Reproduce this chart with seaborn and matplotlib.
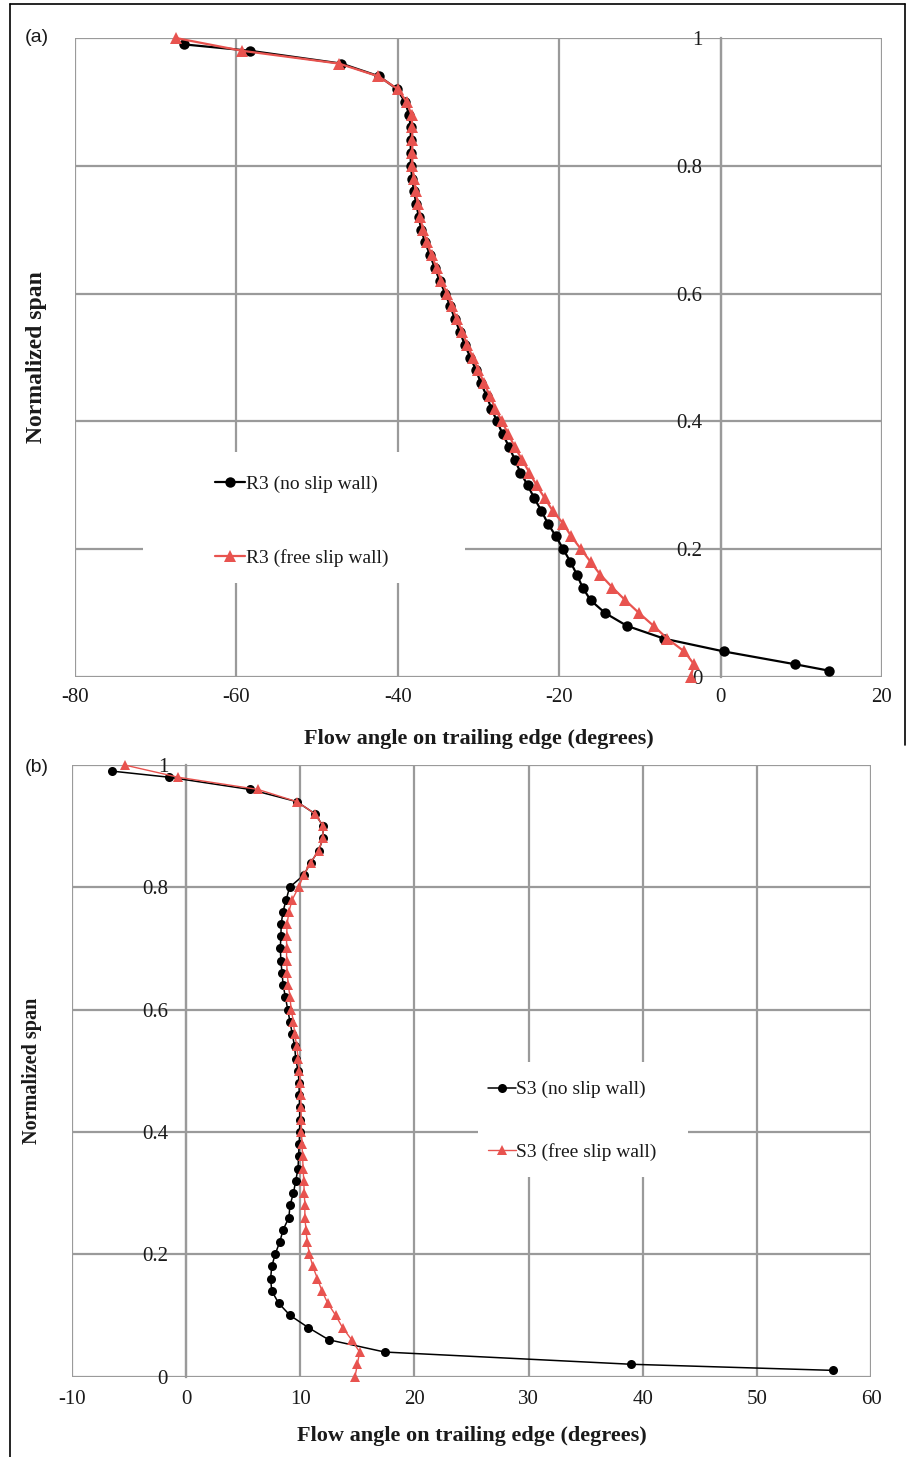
import matplotlib
matplotlib.use("Agg")
import matplotlib.pyplot as plt
import seaborn as sns
import pandas as pd
from matplotlib.patches import Rectangle
from matplotlib.lines import Line2D

# ---------------- data ----------------
# Panel (a): rotor R3
a_noslip_span = [0.01, 0.02, 0.04, 0.06, 0.08, 0.10, 0.12, 0.14, 0.16, 0.18, 0.20, 0.22, 0.24,
                 0.26, 0.28, 0.30, 0.32, 0.34, 0.36, 0.38, 0.40, 0.42, 0.44, 0.46, 0.48, 0.50,
                 0.52, 0.54, 0.56, 0.58, 0.60, 0.62, 0.64, 0.66, 0.68, 0.70, 0.72, 0.74, 0.76,
                 0.78, 0.80, 0.82, 0.84, 0.86, 0.88, 0.90, 0.92, 0.94, 0.96, 0.98, 0.99]
a_noslip_angle = [13.4, 9.2, 0.4, -7.0, -11.6, -14.3, -16.1, -17.1, -17.8, -18.6, -19.5, -20.4,
                  -21.4, -22.2, -23.1, -23.9, -24.8, -25.5, -26.2, -27.0, -27.7, -28.4, -29.0,
                  -29.7, -30.3, -31.0, -31.7, -32.3, -32.9, -33.5, -34.1, -34.8, -35.4, -36.0,
                  -36.6, -37.1, -37.4, -37.7, -38.0, -38.2, -38.4, -38.4, -38.4, -38.4, -38.6,
                  -39.1, -40.1, -42.3, -47.0, -58.3, -66.5]
a_free_span = [0.00, 0.02, 0.04, 0.06, 0.08, 0.10, 0.12, 0.14, 0.16, 0.18, 0.20, 0.22, 0.24,
               0.26, 0.28, 0.30, 0.32, 0.34, 0.36, 0.38, 0.40, 0.42, 0.44, 0.46, 0.48, 0.50,
               0.52, 0.54, 0.56, 0.58, 0.60, 0.62, 0.64, 0.66, 0.68, 0.70, 0.72, 0.74, 0.76,
               0.78, 0.80, 0.82, 0.84, 0.86, 0.88, 0.90, 0.92, 0.94, 0.96, 0.98, 1.00]
a_free_angle = [-3.7, -3.3, -4.5, -6.6, -8.3, -10.1, -11.8, -13.4, -14.9, -16.1, -17.3, -18.5,
                -19.5, -20.8, -21.8, -22.8, -23.7, -24.6, -25.5, -26.3, -27.1, -27.9, -28.6,
                -29.3, -30.0, -30.7, -31.4, -32.0, -32.7, -33.3, -33.9, -34.6, -35.2, -35.8,
                -36.4, -36.9, -37.2, -37.5, -37.8, -38.0, -38.2, -38.2, -38.2, -38.2, -38.3,
                -38.9, -40.0, -42.4, -47.3, -59.3, -67.5]

# Panel (b): stator S3
b_noslip_span = [0.01, 0.02, 0.04, 0.06, 0.08, 0.10, 0.12, 0.14, 0.16, 0.18, 0.20, 0.22, 0.24,
                 0.26, 0.28, 0.30, 0.32, 0.34, 0.36, 0.38, 0.40, 0.42, 0.44, 0.46, 0.48, 0.50,
                 0.52, 0.54, 0.56, 0.58, 0.60, 0.62, 0.64, 0.66, 0.68, 0.70, 0.72, 0.74, 0.76,
                 0.78, 0.80, 0.82, 0.84, 0.86, 0.88, 0.90, 0.92, 0.94, 0.96, 0.98, 0.99]
b_noslip_angle = [56.7, 39.0, 17.4, 12.5, 10.7, 9.1, 8.1, 7.5, 7.4, 7.5, 7.8, 8.2, 8.5, 9.0,
                  9.1, 9.4, 9.6, 9.8, 9.85, 9.9, 9.95, 9.95, 9.95, 9.9, 9.9, 9.8, 9.6, 9.5,
                  9.3, 9.1, 8.9, 8.7, 8.5, 8.4, 8.3, 8.25, 8.3, 8.33, 8.48, 8.77, 9.06, 10.3,
                  10.9, 11.6, 12.0, 12.0, 11.3, 9.7, 5.6, -1.5, -6.5]
b_free_span = [0.00, 0.02, 0.04, 0.06, 0.08, 0.10, 0.12, 0.14, 0.16, 0.18, 0.20, 0.22, 0.24,
               0.26, 0.28, 0.30, 0.32, 0.34, 0.36, 0.38, 0.40, 0.42, 0.44, 0.46, 0.48, 0.50,
               0.52, 0.54, 0.56, 0.58, 0.60, 0.62, 0.64, 0.66, 0.68, 0.70, 0.72, 0.74, 0.76,
               0.78, 0.80, 0.82, 0.84, 0.86, 0.88, 0.90, 0.92, 0.94, 0.96, 0.98, 1.00]
b_free_angle = [14.8, 15.0, 15.2, 14.5, 13.7, 13.1, 12.4, 11.9, 11.5, 11.1, 10.8, 10.6, 10.5,
                10.4, 10.4, 10.35, 10.3, 10.25, 10.2, 10.15, 10.1, 10.1, 10.05, 10.05, 10.0,
                9.9, 9.8, 9.7, 9.5, 9.4, 9.2, 9.1, 8.95, 8.85, 8.8, 8.8, 8.8, 8.85, 9.0, 9.3,
                9.85, 10.3, 10.9, 11.6, 12.0, 12.0, 11.3, 9.7, 6.3, -0.7, -5.4]

a_labels = ["R3 (no slip wall)", "R3 (free slip wall)"]
b_labels = ["S3 (no slip wall)", "S3 (free slip wall)"]
a_xticks = [-80, -60, -40, -20, 0, 20]
a_xticklabels = ["-80", "-60", "-40", "-20", "0", "20"]
b_xticks = [-10, 0, 10, 20, 30, 40, 50, 60]
b_xticklabels = ["-10", "0", "10", "20", "30", "40", "50", "60"]
y_ticks = [0, 0.2, 0.4, 0.6, 0.8, 1.0]
y_ticklabels = ["0", "0.2", "0.4", "0.6", "0.8", "1"]
x_title = "Flow angle on trailing edge (degrees)"
y_title = "Normalized span"

# ---------------- style ----------------
sns.set_theme(style="white")
plt.rcParams["font.family"] = ["Liberation Serif", "DejaVu Serif"]
plt.rcParams["axes.unicode_minus"] = False

GRID = "#9a9a9a"
RED = "#E8534F"
TXT = "#1a1a1a"
W, H = 907, 1457

fig = plt.figure(figsize=(W / 100, H / 100), dpi=100)


def px_axes(l, t, r, b):
    return fig.add_axes([l / W, 1 - b / H, (r - l) / W, (b - t) / H])


ax_a = px_axes(75, 38, 882, 677)
ax_b = px_axes(72, 765, 871, 1376.5)


def style(ax, xlim, xticks, xticklabels, xpad, ylab_x, ylab_size):
    ax.set_xlim(*xlim)
    ax.set_ylim(0, 1)
    ax.set_xticks(xticks)
    ax.set_xticklabels(xticklabels)
    ax.set_yticks(y_ticks)
    ax.set_yticklabels(y_ticklabels)
    ax.set_axisbelow(True)
    ax.grid(True, color=GRID, lw=1.6)
    for s in ["top", "right", "bottom"]:
        ax.spines[s].set_visible(False)
    ax.spines["left"].set_position(("data", 0))
    ax.spines["left"].set_color(GRID)
    ax.spines["left"].set_linewidth(1.6)
    ax.tick_params(axis="both", length=0, labelsize=15, colors=TXT)
    ax.tick_params(axis="y", pad=13)
    ax.tick_params(axis="x", pad=xpad)
    ax.set_xlabel(x_title, fontsize=16, fontweight="bold", color=TXT)
    ax.set_ylabel(y_title, fontsize=ylab_size, fontweight="bold", color=TXT)
    ax.xaxis.set_label_coords(0.5, -0.081)
    ax.yaxis.set_label_coords(ylab_x, 0.5)
    ax.set_facecolor("white")


# ---- panel (a)
df_a1 = pd.DataFrame({"angle": a_noslip_angle, "span": a_noslip_span})
df_a2 = pd.DataFrame({"angle": a_free_angle, "span": a_free_span})
sns.lineplot(data=df_a1, x="angle", y="span", sort=False, estimator=None, ax=ax_a,
             color="black", lw=1.6, marker="o", markersize=7.5, markeredgewidth=0,
             clip_on=False, zorder=3, label=a_labels[0])
sns.lineplot(data=df_a2, x="angle", y="span", sort=False, estimator=None, ax=ax_a,
             color=RED, lw=1.6, marker="^", markersize=8, markeredgewidth=0,
             clip_on=False, zorder=4, label=a_labels[1])
style(ax_a, (-80, 20), a_xticks, a_xticklabels, 8, -0.035, 17)

# ---- panel (b)
df_b1 = pd.DataFrame({"angle": b_noslip_angle, "span": b_noslip_span})
df_b2 = pd.DataFrame({"angle": b_free_angle, "span": b_free_span})
sns.lineplot(data=df_b1, x="angle", y="span", sort=False, estimator=None, ax=ax_b,
             color="black", lw=1.1, marker="o", markersize=6.5, markeredgewidth=0,
             clip_on=False, zorder=3, label=b_labels[0])
sns.lineplot(data=df_b2, x="angle", y="span", sort=False, estimator=None, ax=ax_b,
             color=RED, lw=1.0, marker="^", markersize=6.5, markeredgewidth=0,
             clip_on=False, zorder=4, label=b_labels[1])
style(ax_b, (-10, 60), b_xticks, b_xticklabels, 10, -0.0375, 14.5)

# legend backgrounds (white boxes interrupting the grid)
ax_a.add_patch(Rectangle((0.0843, 0.147), 0.399, 0.205, transform=ax_a.transAxes,
                         facecolor="white", edgecolor="none", zorder=1))
ax_b.add_patch(Rectangle((0.508, 0.326), 0.263, 0.188, transform=ax_b.transAxes,
                         facecolor="white", edgecolor="none", zorder=1))

ax_a.legend(loc="center left", bbox_to_anchor=(0.1735, 0.244), frameon=False, fontsize=14,
            handlelength=1.55, handletextpad=0.05, labelspacing=2.85, borderpad=0,
            borderaxespad=0, labelcolor=TXT)
ax_b.legend(loc="center left", bbox_to_anchor=(0.521, 0.418), frameon=False, fontsize=14,
            handlelength=1.4, handletextpad=0.05, labelspacing=2.3, borderpad=0,
            borderaxespad=0, labelcolor=TXT)

# panel tags
fig.text(25 / W, 1 - 38 / H, "(a)", family=["Liberation Sans", "DejaVu Sans"], fontsize=14,
         va="center", ha="left", color=TXT)
fig.text(25 / W, 1 - 768 / H, "(b)", family=["Liberation Sans", "DejaVu Sans"], fontsize=14,
         va="center", ha="left", color=TXT)

# figure frame lines
fig.add_artist(Line2D([10 / W, 10 / W], [0, 1 - 4 / H], color="black", lw=1.2))
fig.add_artist(Line2D([10 / W, 905 / W], [1 - 4 / H, 1 - 4 / H], color="black", lw=1.2))
fig.add_artist(Line2D([905 / W, 905 / W], [1 - 4 / H, 1 - 745 / H], color="black", lw=1.2))

fig.savefig("out.png", dpi=100, facecolor="white")
